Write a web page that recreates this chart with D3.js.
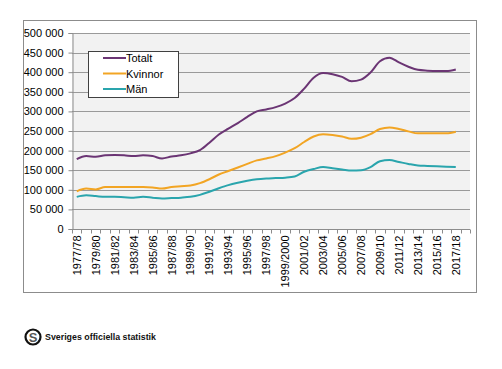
<!DOCTYPE html>
<html><head><meta charset="utf-8">
<script src="https://cdn.jsdelivr.net/npm/d3@7"></script>
<style>body{margin:0;background:#fff}svg{display:block}text{font-family:"Liberation Sans",Arial,sans-serif}</style>
</head><body><svg id="c" width="502" height="369"></svg>
<script>
const categories = ["1977/78","1978/79","1979/80","1980/81","1981/82","1982/83","1983/84","1984/85","1985/86","1986/87","1987/88","1988/89","1989/90","1990/91","1991/92","1992/93","1993/94","1994/95","1995/96","1996/97","1997/98","1998/99","1999/2000","2000/01","2001/02","2002/03","2003/04","2004/05","2005/06","2006/07","2007/08","2008/09","2009/10","2010/11","2011/12","2012/13","2013/14","2014/15","2015/16","2016/17","2017/18"];
const totalt = [178000,186000,184000,188000,189000,188000,186000,188000,186000,180000,185000,188000,193000,201000,220000,241000,256000,270000,286000,300000,305000,311000,320000,334000,358000,386000,398000,395000,388000,377000,381000,399000,428000,437000,425000,414000,406000,404000,403000,403000,407000];
const kvinnor = [96000,103000,101000,107000,107000,107000,107000,107000,106000,103000,107000,109000,111000,117000,127000,139000,148000,157000,166000,175000,180000,186000,195000,206000,222000,236000,242000,240000,236000,230000,233000,242000,255000,259000,255000,249000,244000,244000,244000,244000,248000];
const man = [82000,86000,84000,82000,82000,81000,80000,82000,80000,78000,79000,80000,82000,87000,95000,104000,112000,118000,123000,127000,129000,130000,131000,134000,146000,153000,158000,155000,152000,149000,150000,158000,173000,176000,171000,166000,162000,161000,160000,159000,158000];
const yTicks = [0,50000,100000,150000,200000,250000,300000,350000,400000,450000,500000];
const seriesNames = ["Totalt","Kvinnor","Män"];
const seriesColors = ["#6b3574","#f2a524","#2aa5ad"];
const seriesData = [totalt, kvinnor, man];

const svg = d3.select("#c");
const L=72, R=470, T=33, B=229;
svg.append("rect").attr("x",23.5).attr("y",20.5).attr("width",453).attr("height",272)
  .attr("fill","#fff").attr("stroke","#8c8c8c");
svg.append("rect").attr("x",L).attr("y",T).attr("width",R-L).attr("height",B-T).attr("fill","#f2f2f2");

// one trailing empty slot as in the original axis
const x = d3.scaleBand().domain(d3.range(categories.length+1)).range([L,R]).paddingInner(0).paddingOuter(0);
const y = d3.scaleLinear().domain([0,500000]).range([B,T]);
const fmt = v => d3.format(",")(v).replace(/,/g," ");

// gridlines
svg.append("g").selectAll("line").data(yTicks.filter(d=>d>0)).join("line")
  .attr("x1",L).attr("x2",R).attr("y1",d=>Math.round(y(d))+0.5).attr("y2",d=>Math.round(y(d))+0.5)
  .attr("stroke","#9a9a9a").attr("stroke-width",1);

// y axis
const ya = svg.append("g").attr("transform",`translate(${L+0.5},0)`)
  .call(d3.axisLeft(y).tickValues(yTicks).tickFormat(fmt).tickSize(4).tickPadding(5));
ya.selectAll("path,line").attr("stroke","#8c8c8c");
ya.selectAll("text").attr("font-size",11).attr("fill","#000").attr("font-family","Liberation Sans, Arial, sans-serif");

// x axis
const xa = svg.append("g").attr("transform",`translate(0,${B+0.5})`);
xa.append("line").attr("x1",L).attr("x2",R).attr("stroke","#8c8c8c");
xa.selectAll("line.t").data(d3.range(categories.length+2)).join("line").attr("class","t")
  .attr("x1",i=>Math.round(L+i*x.step())+0.5).attr("x2",i=>Math.round(L+i*x.step())+0.5)
  .attr("y1",0).attr("y2",4).attr("stroke","#8c8c8c");
xa.selectAll("text").data(categories.map((c,i)=>({c,i})).filter(d=>d.i%2===0)).join("text")
  .attr("transform",d=>`translate(${x(d.i)+x.bandwidth()/2+4},6) rotate(-90)`)
  .attr("text-anchor","end").attr("font-size",11).attr("fill","#000").text(d=>d.c);

// lines
const line = d3.line().x((d,i)=>x(i)+x.bandwidth()/2).y(d=>y(d)).curve(d3.curveMonotoneX);
seriesData.forEach((s,k)=>{
  svg.append("path").datum(s).attr("d",line).attr("fill","none")
    .attr("stroke",seriesColors[k]).attr("stroke-width",2);
});

// legend
const lg = svg.append("g");
lg.append("rect").attr("x",88.5).attr("y",51.5).attr("width",90).attr("height",46)
  .attr("fill","#fff").attr("stroke","#404040");
seriesNames.forEach((n,k)=>{
  const yy = 58 + k*15.5;
  lg.append("line").attr("x1",103).attr("x2",126).attr("y1",yy).attr("y2",yy)
    .attr("stroke",seriesColors[k]).attr("stroke-width",2);
  lg.append("text").attr("x",126).attr("y",yy+4).attr("font-size",11).attr("fill","#000").text(n);
});

// logo
const lo = svg.append("g");
lo.append("circle").attr("cx",33).attr("cy",337).attr("r",7.5).attr("fill","#fff").attr("stroke","#111").attr("stroke-width",2.2);
lo.append("text").attr("x",33).attr("y",341.5).attr("text-anchor","middle").attr("font-size",13).attr("font-weight","bold").attr("fill","#555").text("S");
lo.append("text").attr("x",45).attr("y",340).attr("font-size",8.5).attr("font-weight","bold").attr("fill","#111")
  .attr("font-family","DejaVu Sans, sans-serif").attr("textLength",111).attr("lengthAdjust","spacingAndGlyphs").text("Sveriges officiella statistik");
</script></body></html>
